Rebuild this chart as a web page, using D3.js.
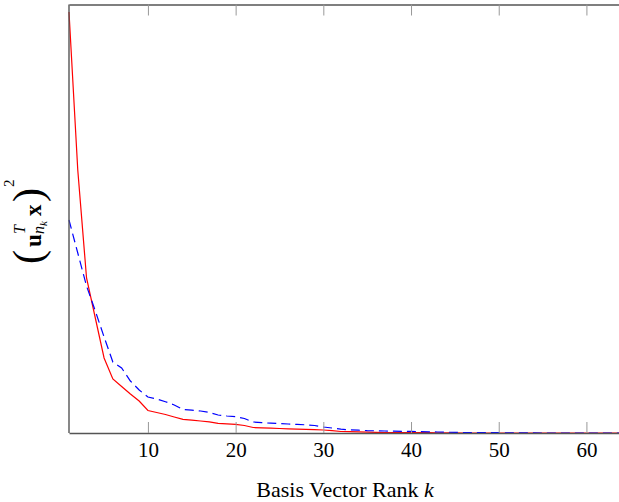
<!DOCTYPE html>
<html>
<head>
<meta charset="utf-8">
<script src="https://cdn.jsdelivr.net/npm/d3@7"></script>
<style>
  body { margin: 0; background: #fff; }
  svg text { font-family: "Liberation Serif", "Times New Roman", Times, serif; }
</style>
</head>
<body>
<svg class="one"></svg>
<script>
// squared projection per basis vector rank k (k = index + 1)
var redValues = [421, 263, 155, 115, 75, 54, 46.5, 39, 32, 22.5,
                 20.5, 18.5, 16, 13.7, 12.8, 12, 11.2, 9.7, 9.2, 8.7,
                 7.5, 5.5, 5.2, 4.8, 4.5, 4.2, 3.9, 3.6, 3.3, 3,
                 2.3, 1.5, 1.3, 1.1, 0.8, 0.6, 0.5, 0.5, 0.4, 0.4,
                 0.3, 0.3, 0.2, 0.1, 0.1, 0, 0, 0, 0, 0,
                 0, 0, 0, 0, 0, 0, 0, 0, 0, 0,
                 0, 0, 0, 0];
var blueValues = [213, 180, 147, 122, 96, 71, 65, 52, 43, 36,
                  34, 31.3, 28, 23.5, 22.8, 22, 20.5, 18, 17, 16.3,
                  14.5, 11, 10.3, 9.8, 9.4, 9, 8.6, 8.2, 7.5, 6,
                  5, 3.8, 3.2, 2.8, 2.4, 2.2, 2, 1.8, 1.7, 1.6,
                  1.4, 1.2, 1.0, 0.8, 0.6, 0.5, 0.4, 0.4, 0.3, 0.3,
                  0.2, 0.2, 0.1, 0.1, 0, 0, 0, 0, 0, 0,
                  0, 0, 0, 0];
var xTicks = [10, 20, 30, 40, 50, 60];
var xDomain = [1, 64];
var yMax = 428.5;

var drawGraph = function(w, h, c)
{
  var svg = d3.select(c)
              .attr("width", w)
              .attr("height", h);

  var margins = {top: 4.5, left: 69, bottom: 69};
  var plotW = 552.5;
  var plotH = h - margins.top - margins.bottom;

  var xScale = d3.scaleLinear()
                 .domain(xDomain)
                 .range([margins.left, margins.left + plotW]);
  var yScale = d3.scaleLinear()
                 .domain([0, yMax])
                 .range([margins.top + plotH, margins.top]);

  var line = d3.line()
               .x(function(d, i) { return xScale(i + 1); })
               .y(function(d) { return yScale(d); });

  // red first, blue dashed drawn over it
  svg.append("path")
     .datum(redValues)
     .attr("d", line)
     .attr("fill", "none")
     .attr("stroke", "#ff0000")
     .attr("stroke-width", 1.2);

  svg.append("path")
     .datum(blueValues)
     .attr("d", line)
     .attr("fill", "none")
     .attr("stroke", "#0000ff")
     .attr("stroke-width", 1.2)
     .attr("stroke-dasharray", "9,5");

  // axes
  var xAxis = d3.axisBottom(xScale)
                .tickValues(xTicks)
                .tickSize(-11)
                .tickSizeOuter(0)
                .tickPadding(9);
  var bottom = svg.append("g").classed("xAxis", true)
                  .attr("transform", "translate(0," + (margins.top + plotH) + ")")
                  .call(xAxis);

  var topAxis = d3.axisTop(xScale)
                  .tickValues(xTicks)
                  .tickSize(-11)
                  .tickSizeOuter(0)
                  .tickFormat("");
  var top = svg.append("g").classed("topAxis", true)
               .attr("transform", "translate(0," + margins.top + ")")
               .call(topAxis);

  [bottom, top].forEach(function(g) {
    g.attr("font-family", null);
    g.select(".domain").attr("stroke", "#555").attr("stroke-width", 1.4);
    g.selectAll(".tick line").attr("stroke", "#999").attr("stroke-width", 1);
  });
  bottom.selectAll(".tick text")
        .attr("font-size", 21)
        .attr("fill", "#000");

  svg.append("line")
     .attr("x1", margins.left).attr("x2", margins.left)
     .attr("y1", margins.top).attr("y2", margins.top + plotH)
     .attr("stroke", "#555")
     .attr("stroke-width", 1.4);

  // x label
  var xl = svg.append("text")
              .attr("x", 345)
              .attr("y", 497)
              .attr("text-anchor", "middle")
              .attr("font-size", 22)
              .attr("fill", "#000");
  xl.append("tspan").text("Basis Vector Rank ");
  xl.append("tspan").attr("font-style", "italic").text("k");

  // y label (u_{n_k}^T x)^2, rotated
  var yl = svg.append("g")
              .attr("transform", "translate(41,218) rotate(-90)");
  var piece = function(txt, x, y, size, weight, style)
  {
    yl.append("text")
      .attr("x", x).attr("y", y)
      .attr("font-size", size)
      .attr("font-weight", weight || "normal")
      .attr("font-style", style || "normal")
      .attr("fill", "#000")
      .text(txt);
  };
  piece("(", -46, 1, 42);
  piece("u", -29, 0, 23, "bold");
  piece("T", -16, -16, 16, "normal", "italic");
  piece("n", -16, 3, 16, "normal", "italic");
  piece("k", -8, 6, 11, "normal", "italic");
  piece("x", 2, 0, 23, "bold");
  piece(")", 16, 1, 42);
  piece("2", 31, -27, 15);
}

drawGraph(619, 502, ".one");
</script>
</body>
</html>
